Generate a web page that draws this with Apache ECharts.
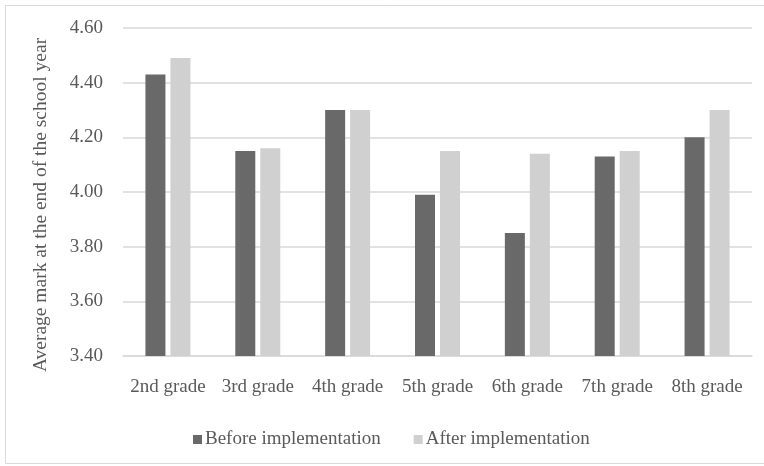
<!DOCTYPE html>
<html>
<head>
<meta charset="utf-8">
<script src="https://cdn.jsdelivr.net/npm/echarts@6/dist/echarts.min.js"></script>
<style>
html,body{margin:0;padding:0;background:#fff;}
#c{width:764px;height:466px;}
</style>
</head>
<body>
<div id="c"></div>
<script>
var categories = ['2nd grade','3rd grade','4th grade','5th grade','6th grade','7th grade','8th grade'];
var beforeValues = [4.43, 4.15, 4.30, 3.99, 3.85, 4.13, 4.20];
var afterValues = [4.49, 4.16, 4.30, 4.15, 4.14, 4.15, 4.30];
var seriesNames = ['Before implementation', 'After implementation'];
var yTitle = 'Average mark at the end of the school year';

var font = 'Liberation Serif, Times New Roman, serif';
var textColor = '#595959';
var chart = echarts.init(document.getElementById('c'), null, {renderer:'canvas'});
chart.setOption({
  animation: false,
  backgroundColor: '#fff',
  textStyle: {fontFamily: font},
  graphic: [{
    type: 'rect', silent: true,
    shape: {x: 5.5, y: 5.5, width: 790, height: 458},
    style: {fill: 'none', stroke: '#d9d9d9', lineWidth: 1}
  }],
  grid: {left: 123, right: 12, top: 28, bottom: 110, containLabel: false},
  legend: {
    data: seriesNames,
    bottom: 17,
    left: 193,
    padding: 0,
    icon: 'rect',
    itemWidth: 9, itemHeight: 9, itemGap: 33,
    textStyle: {fontFamily: font, fontSize: 19, color: textColor, padding: [0,0,0,-2]}
  },
  xAxis: {
    type: 'category',
    data: categories,
    axisLine: {show: true, lineStyle: {color: '#d9d9d9', width: 1.5}},
    axisTick: {show: false},
    axisLabel: {fontFamily: font, fontSize: 19, color: textColor, margin: 22, interval: 0}
  },
  yAxis: {
    type: 'value',
    min: 3.4, max: 4.6, interval: 0.2,
    name: yTitle,
    nameLocation: 'middle',
    nameGap: 72,
    nameTextStyle: {fontFamily: font, fontSize: 19.5, color: textColor, padding: [0, 26, 0, 0]},
    axisLine: {show: false},
    axisTick: {show: false},
    axisLabel: {fontFamily: font, fontSize: 19, color: textColor, margin: 20,
      formatter: function(v){ return v.toFixed(2); }},
    splitLine: {lineStyle: {color: '#d9d9d9', width: 1.5}}
  },
  series: [
    {name: seriesNames[0], type: 'bar', data: beforeValues, barWidth: 20, barGap: '25%',
     itemStyle: {color: '#696969'}},
    {name: seriesNames[1], type: 'bar', data: afterValues, barWidth: 20,
     itemStyle: {color: '#d0d0d0'}}
  ]
});
</script>
</body>
</html>
